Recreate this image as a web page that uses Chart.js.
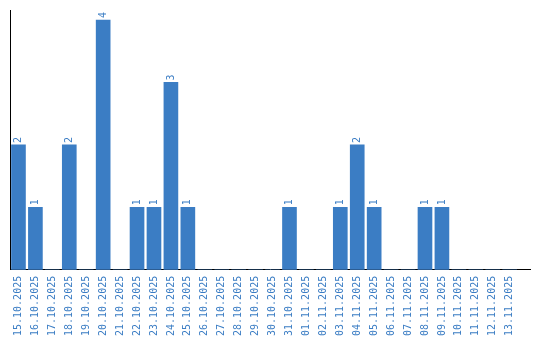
<!DOCTYPE html>
<html>
<head>
<meta charset="utf-8">
<script src="https://cdn.jsdelivr.net/npm/chart.js@4/dist/chart.umd.min.js"></script>
<style>
  html, body { margin: 0; padding: 0; background: #fff; }
  #wrap { width: 540px; height: 340px; }
</style>
</head>
<body>
<div id="wrap"><canvas id="chart"></canvas></div>
<script>
// daty i liczby z wykresu
const dates = [
  '15.10.2025', '16.10.2025', '17.10.2025', '18.10.2025', '19.10.2025',
  '20.10.2025', '21.10.2025', '22.10.2025', '23.10.2025', '24.10.2025',
  '25.10.2025', '26.10.2025', '27.10.2025', '28.10.2025', '29.10.2025',
  '30.10.2025', '31.10.2025', '01.11.2025', '02.11.2025', '03.11.2025',
  '04.11.2025', '05.11.2025', '06.11.2025', '07.11.2025', '08.11.2025',
  '09.11.2025', '10.11.2025', '11.11.2025', '12.11.2025', '13.11.2025'
];
const counts = [
  2, 1, 0, 2, 0,
  4, 0, 1, 1, 3,
  1, 0, 0, 0, 0,
  0, 1, 0, 0, 1,
  2, 1, 0, 0, 1,
  1, 0, 0, 0, 0
];

const blue = '#3b7dc4';
const monoFont = { family: "'DejaVu Sans Mono', 'Liberation Mono', monospace", size: 10 };

// liczby nad słupkami, obrócone jak podpisy osi
const barLabels = {
  id: 'barLabels',
  afterDatasetsDraw(chart) {
    const ctx = chart.ctx;
    const meta = chart.getDatasetMeta(0);
    ctx.save();
    ctx.fillStyle = blue;
    ctx.font = monoFont.size + 'px ' + monoFont.family;
    ctx.textAlign = 'left';
    ctx.textBaseline = 'middle';
    meta.data.forEach((bar, i) => {
      if (!counts[i]) return;
      ctx.save();
      ctx.translate(bar.x, bar.y - 2);
      ctx.rotate(-Math.PI / 2);
      ctx.fillText(String(counts[i]), 0, 0);
      ctx.restore();
    });
    ctx.restore();
  }
};

new Chart(document.getElementById('chart'), {
  type: 'bar',
  data: {
    datasets: [{
      data: counts.map((c, i) => ({ x: i, y: c })),
      backgroundColor: blue,
      barThickness: 14
    }]
  },
  options: {
    responsive: true,
    maintainAspectRatio: false,
    animation: false,
    layout: { padding: { left: 10, right: 10, top: 10, bottom: -2 } },
    plugins: { legend: { display: false }, tooltip: { enabled: false } },
    scales: {
      x: {
        type: 'linear',
        min: -0.5,
        max: 30.2,
        offset: false,
        grid: { display: false, drawTicks: false },
        border: { display: true, color: '#000', width: 1 },
        afterBuildTicks: axis => { axis.ticks = dates.map((d, i) => ({ value: i })); },
        ticks: {
          autoSkip: false,
          minRotation: 90,
          maxRotation: 90,
          padding: 6,
          color: blue,
          font: monoFont,
          callback: v => dates[v]
        }
      },
      y: {
        min: 0,
        max: 4.16,
        grid: { display: false, drawTicks: false },
        border: { display: true, color: '#000', width: 1 },
        ticks: { display: false }
      }
    }
  },
  plugins: [barLabels]
});
</script>
</body>
</html>
